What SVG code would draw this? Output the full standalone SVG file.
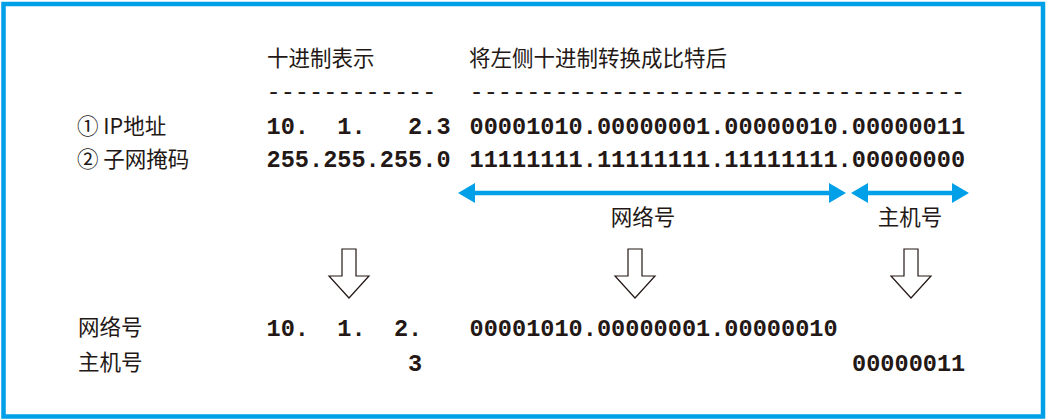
<svg xmlns="http://www.w3.org/2000/svg" width="1046" height="420" viewBox="0 0 1046 420">
<style>
.cjk{font-family:"Noto Sans CJK SC","Noto Sans",sans-serif;font-size:21.5px;fill:#231815}
.mono{font-family:"Liberation Mono","Courier New",monospace;font-size:23.6px;font-weight:bold;fill:#231815;white-space:pre}
.dash{font-family:"Liberation Mono","Courier New",monospace;font-size:23.6px;fill:#231815;white-space:pre}
.blue{stroke:#00a0e9;stroke-width:4.5;fill:none}
.hollow{fill:#fff;stroke:#231815;stroke-width:1.2}
</style>
<defs>
<marker id="ah" viewBox="0 0 17 20" refX="5" refY="10" markerWidth="17" markerHeight="20" markerUnits="userSpaceOnUse" orient="auto-start-reverse">
<path d="M0,0 L17,10 L0,20 Z" fill="#00a0e9"/>
</marker>
<path id="down" d="M-7,0 H7 V27 H20 L0,49 L-20,27 H-7 Z"/>
</defs>
<rect x="3.5" y="4" width="1039.5" height="412.5" fill="#fff" stroke="#00a0e9" stroke-width="4.5"/>
<g id="headers">
<text class="cjk" x="267" y="66">十进制表示</text>
<text class="cjk" x="469" y="66">将左侧十进制转换成比特后</text>
<text class="dash" x="266.5" y="99" xml:space="preserve">------------</text>
<text class="dash" x="469.5" y="99" xml:space="preserve">-----------------------------------</text>
</g>
<g id="ip-row">
<text class="cjk" x="77" y="134">① IP地址</text>
<text class="mono" x="266.5" y="134" xml:space="preserve">10.  1.   2.3</text>
<text class="mono" x="469.5" y="134" xml:space="preserve">00001010.00000001.00000010.00000011</text>
</g>
<g id="mask-row">
<text class="cjk" x="77" y="167">② 子网掩码</text>
<text class="mono" x="266.5" y="167" xml:space="preserve">255.255.255.0</text>
<text class="mono" x="469.5" y="167" xml:space="preserve">11111111.11111111.11111111.00000000</text>
</g>
<g id="connectors">
<line class="blue" x1="470" y1="193" x2="834" y2="193" marker-start="url(#ah)" marker-end="url(#ah)"/>
<line class="blue" x1="863" y1="193" x2="957" y2="193" marker-start="url(#ah)" marker-end="url(#ah)"/>
<use href="#down" class="hollow" transform="translate(349,249)"/>
<use href="#down" class="hollow" transform="translate(635,249)"/>
<use href="#down" class="hollow" transform="translate(911,249)"/>
</g>
<g id="span-labels">
<text class="cjk" x="643" y="225" text-anchor="middle">网络号</text>
<text class="cjk" x="910" y="225" text-anchor="middle">主机号</text>
</g>
<g id="network-row">
<text class="cjk" x="78" y="335">网络号</text>
<text class="mono" x="266.5" y="335.5" xml:space="preserve">10.  1.  2.</text>
<text class="mono" x="469.5" y="335.5" xml:space="preserve">00001010.00000001.00000010</text>
</g>
<g id="host-row">
<text class="cjk" x="78" y="370">主机号</text>
<text class="mono" x="408" y="370.5">3</text>
<text class="mono" x="852" y="370.5">00000011</text>
</g>
</svg>
